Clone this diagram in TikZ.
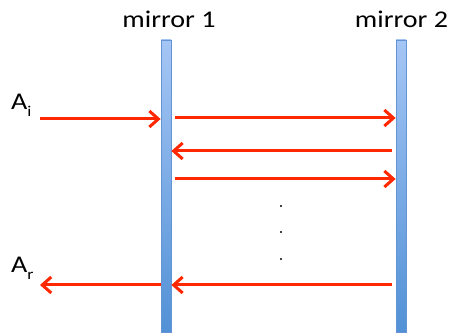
\documentclass[tikz,border=0pt]{standalone}
\usepackage{fontspec}
\setmainfont{Carlito}
\usetikzlibrary{arrows.meta}
\definecolor{rayred}{RGB}{255,40,0}
\definecolor{mirtop}{RGB}{165,198,245}
\definecolor{mirbot}{RGB}{82,145,214}
\definecolor{mirborder}{RGB}{100,148,212}
\newcommand{\wide}[1]{\scalebox{1.17}[1]{#1}}
\tikzset{
  mirror/.style={rectangle, draw=mirborder, line width=0.8pt, top color=mirtop, bottom color=mirbot,
    minimum width=10pt, minimum height=292pt, inner sep=0pt},
  ray/.style={draw=rayred, line width=3pt, -{Straight Barb[length=9pt,width=16pt]}},
  lbl/.style={anchor=base, inner sep=0pt, font=\fontsize{24}{28}\selectfont},
  dotmark/.style={circle, fill=black, inner sep=0pt, minimum size=2.4pt}
}
\begin{document}
\begin{tikzpicture}[x=1pt, y=-1pt]
\useasboundingbox (0,0) rectangle (453,336);
\node[mirror] (m1) at (166,186) {};
\node[mirror] (m2) at (401,186) {};
\node[lbl] (t1) at (169,28) {\wide{mirror 1}};
\node[lbl] (t2) at (401.5,28) {\wide{mirror 2}};
\node[lbl, anchor=base west] (ai) at (11,110) {\wide{A\raisebox{-7pt}{\fontsize{15}{18}\selectfont i}}};
\node[lbl, anchor=base west] (ar) at (11,273) {\wide{A\raisebox{-7pt}{\fontsize{15}{18}\selectfont r}}};
\coordinate (in) at (40,119);
\coordinate (out) at (40,285);
\coordinate (s2) at (175,118);
\coordinate (s3) at (392,151);
\coordinate (s4) at (175,179);
\coordinate (s5) at (392,285);
\draw[ray] (in) -- (in -| m1.west);
\draw[ray] (s2) -- (s2 -| m2.west);
\draw[ray] (s3) -- (s3 -| m1.east);
\draw[ray] (s4) -- (s4 -| m2.west);
\draw[ray] (s5) -- (s5 -| m1.east);
\draw[ray] (out -| m1.west) -- (out);
\node[dotmark] (d1) at (281,206) {};
\node[dotmark] (d2) at (281,232) {};
\node[dotmark] (d3) at (281,259) {};
\end{tikzpicture}
\end{document}
